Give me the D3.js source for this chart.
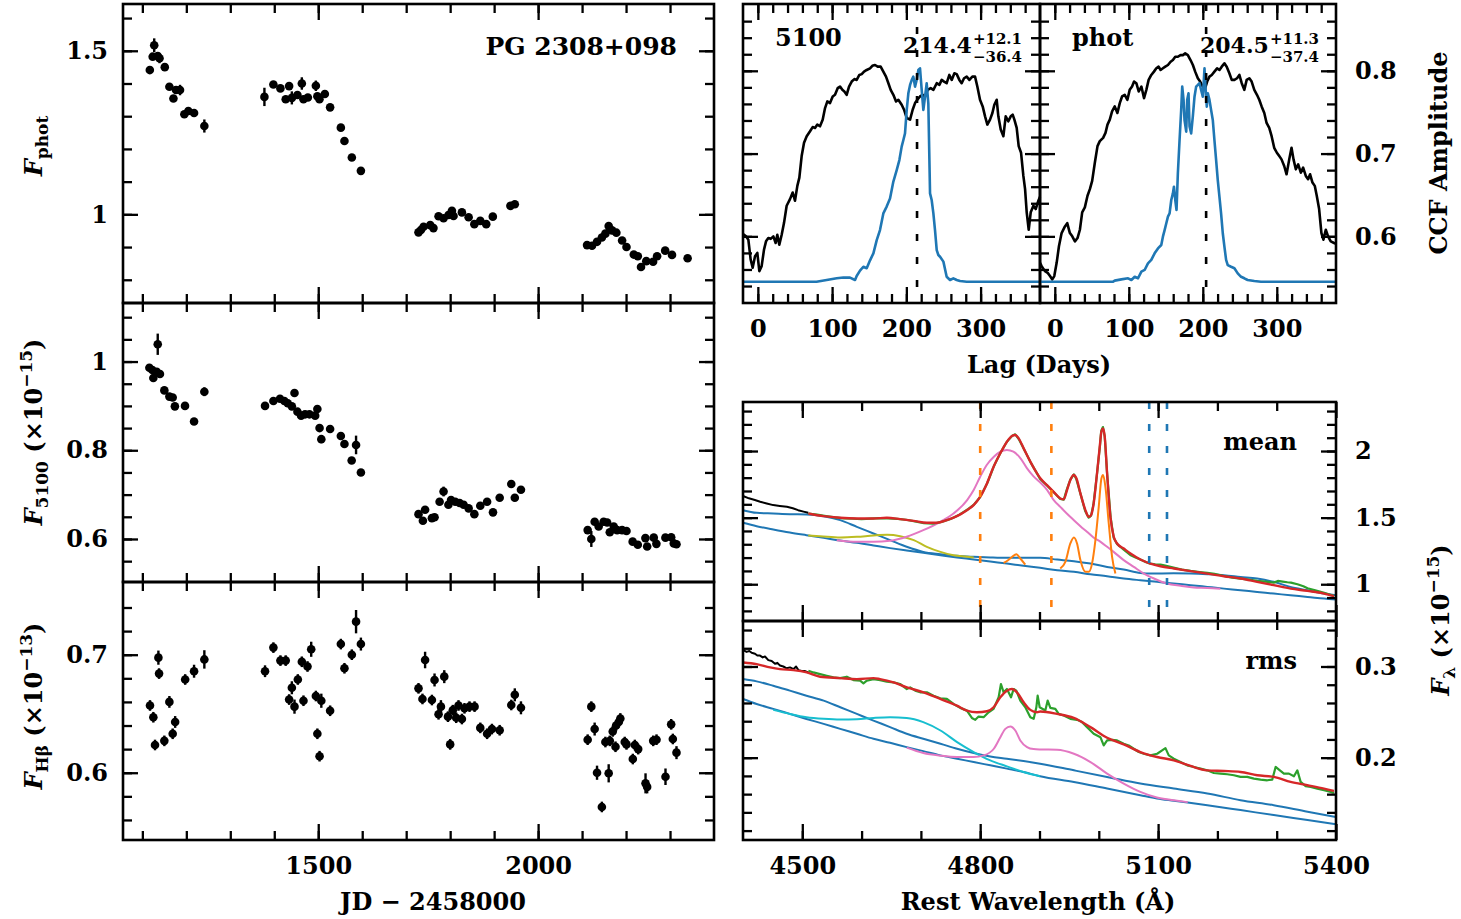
<!DOCTYPE html>
<meta charset="utf-8">
<style>
body { margin: 0; background: #fff; }
text { font-family: "DejaVu Serif", serif; font-weight: bold; font-size: 24px; fill: #000; }
</style>
<body>
<script src="https://d3js.org/d3.v7.min.js"></script>
<script>

var width = 1461,
    height = 919;

// light curves: [JD - 2458000, flux, error]
var photData = [
  [1117,1.441,.004],[1123.5,1.482,.006],[1127,1.517,.021],[1135,1.484,.006],[1139,1.477,.015],[1151,1.450,.005],
  [1161.5,1.390,.005],[1170.7,1.354,.005],[1176.6,1.380,.006],[1185.7,1.380,.016],[1195.5,1.306,.005],[1204.6,1.316,.004],
  [1217.6,1.310,.004],[1241,1.270,.020],
  [1377.6,1.359,.028],[1398,1.397,.004],[1414,1.385,.004],[1426,1.352,.004],[1433.8,1.392,.006],[1440,1.356,.020],
  [1452.7,1.365,.005],[1462.7,1.400,.019],[1466.4,1.352,.004],[1476.4,1.357,.004],[1494.6,1.393,.016],[1498,1.361,.006],
  [1502.8,1.352,.005],[1515,1.368,.004],[1527,1.327,.004],[1551.4,1.265,.004],[1559.6,1.224,.004],[1576.4,1.174,.004],
  [1597,1.133,.004],
  [1728,0.945,.006],[1733.5,0.952,.004],[1739.5,0.962,.004],[1754.7,0.967,.004],[1762,0.958,.004],[1773.6,0.994,.004],
  [1785,0.988,.004],[1796.3,0.998,.004],[1804,1.011,.005],[1807.7,0.995,.004],[1826.7,1.006,.004],[1842,0.991,.004],
  [1855,0.970,.004],[1868.5,0.980,.004],[1882,0.970,.004],[1897,0.993,.004],[1937,1.026,.004],[1947,1.031,.004],
  [2111.3,0.906,.004],[2122.6,0.904,.004],[2134,0.916,.004],[2145,0.929,.004],[2153,0.941,.004],[2160.5,0.964,.005],
  [2168,0.951,.004],[2178,0.944,.004],[2191,0.920,.004],[2201,0.900,.004],[2217.6,0.877,.004],[2226.7,0.872,.004],
  [2234,0.839,.004],[2246,0.857,.004],[2261.5,0.855,.004],[2270.6,0.872,.004],[2289,0.889,.004],[2304.5,0.876,.004],
  [2340,0.866,.004]
];

var f5100Data = [
  [1116,0.986,.005],[1122.7,0.981,.004],[1125,0.963,.005],[1132.6,0.977,.004],[1135,1.039,.024],[1140,0.972,.005],
  [1150,0.935,.004],[1161.5,0.921,.004],[1169,0.919,.004],[1174,0.899,.004],[1197,0.900,.005],[1217.6,0.865,.006],
  [1241,0.932,.010],
  [1379,0.900,.008],[1398,0.911,.004],[1413,0.916,.004],[1423,0.911,.004],[1430.6,0.906,.004],[1440,0.899,.004],
  [1446,0.929,.006],[1452.7,0.887,.006],[1461,0.878,.006],[1470,0.881,.004],[1480,0.881,.004],[1493,0.878,.005],
  [1498,0.893,.004],[1503,0.850,.005],[1507,0.825,.009],[1527,0.848,.004],[1551.4,0.832,.004],[1559.6,0.814,.004],
  [1576,0.777,.004],[1586,0.812,.021],[1597,0.750,.004],
  [1728,0.656,.005],[1738,0.641,.005],[1743,0.666,.004],[1758.5,0.647,.004],[1764.5,0.649,.004],[1776,0.684,.006],
  [1785,0.707,.011],[1796,0.677,.005],[1802,0.688,.004],[1811.6,0.684,.004],[1821.5,0.681,.004],[1830.6,0.677,.004],
  [1842,0.669,.006],[1855,0.656,.004],[1868.5,0.675,.004],[1884,0.684,.004],[1897.4,0.660,.004],[1912.6,0.693,.004],
  [1939,0.724,.004],[1947,0.693,.004],[1961,0.711,.004],
  [2112.7,0.620,.005],[2121,0.600,.018],[2128.6,0.639,.005],[2137.7,0.628,.004],[2149,0.639,.004],[2157,0.637,.004],
  [2163,0.615,.004],[2172,0.628,.004],[2179.7,0.620,.004],[2191,0.620,.004],[2201,0.618,.004],[2215,0.594,.006],
  [2226.7,0.587,.004],[2244,0.602,.005],[2248,0.583,.004],[2263,0.603,.005],[2269,0.589,.004],[2289.5,0.603,.004],
  [2302.6,0.604,.004],[2308.6,0.590,.004],[2314.7,0.588,.004]
];

var hbData = [
  [1117.4,0.657,.0045],[1125,0.647,.0045],[1128.8,0.6235,.0045],[1136.5,0.6975,.006],[1138,0.684,.0045],[1150,0.627,.0045],
  [1161.5,0.660,.005],[1169,0.633,.0045],[1174.6,0.643,.005],[1197.4,0.679,.0045],[1217.6,0.686,.0055],[1241,0.696,.0078],
  [1379,0.686,.005],[1398,0.706,.0045],[1414,0.695,.0045],[1426,0.695,.0045],[1433.8,0.662,.0045],[1440,0.672,.0055],
  [1446,0.656,.006],[1453.6,0.679,.0045],[1462.7,0.694,.0045],[1466.4,0.661,.0045],[1475.6,0.690,.0045],[1484,0.7046,.0064],
  [1494.6,0.665,.0045],[1498,0.633,.0045],[1503,0.614,.0045],[1507,0.661,.006],[1527,0.6525,.0045],[1551.4,0.709,.0045],
  [1559.6,0.6885,.0045],[1576.4,0.700,.0045],[1586,0.728,.0099],[1597,0.709,.0055],
  [1728,0.6715,.0045],[1737,0.6625,.0045],[1743,0.6955,.007],[1758.5,0.6616,.0045],[1764.5,0.6786,.0055],[1773.6,0.6495,.0045],
  [1779,0.656,.0055],[1786.6,0.6814,.0055],[1795,0.6475,.0045],[1800,0.624,.0045],[1806,0.653,.0045],[1813.7,0.6466,.0045],
  [1819,0.657,.0045],[1826.7,0.6455,.0045],[1832.6,0.6546,.0045],[1844,0.656,.0045],[1855.5,0.656,.0045],[1868.5,0.638,.0045],
  [1884,0.633,.0045],[1895,0.637,.0045],[1912.6,0.636,.0045],[1939,0.6574,.0045],[1947,0.666,.0055],[1961,0.655,.0055],
  [2112.7,0.628,.0045],[2121,0.656,.0045],[2128.6,0.637,.0055],[2134,0.600,.006],[2145,0.571,.0045],[2153,0.626,.0045],
  [2160.5,0.5995,.0077],[2163,0.627,.0045],[2169.7,0.635,.0045],[2177.4,0.640,.0045],[2183.5,0.643,.0045],[2187,0.646,.0045],
  [2176,0.622,.0045],[2197,0.626,.0045],[2201,0.624,.0045],[2215.4,0.6116,.0045],[2220,0.6235,.0045],[2227.6,0.620,.0045],
  [2244.3,0.591,.0085],[2248,0.588,.0055],[2261.7,0.627,.0045],[2269.3,0.628,.0045],[2289.7,0.5966,.007],[2302.6,0.641,.0045],
  [2306.4,0.6286,.0045],[2314.7,0.617,.0055]
];

// cross correlation: [lag (days), r] and centroid distributions: [lag, relative count]
var ccf5100 = [
  [-20,0.603],[-16,0.600],[-12.8,0.596],[-9.7,0.572],[-7,0.562],[-3.8,0.576],[-0.7,0.580],[2,0.558],[5.1,0.564],
  [8.3,0.584],[11,0.594],[14.1,0.598],[17.3,0.597],[20.9,0.600],[24,0.592],[26.2,0.602],[28.9,0.590],[32.1,0.602],
  [35.2,0.616],[38.8,0.637],[43.3,0.645],[46.9,0.653],[50,0.643],[53.2,0.661],[55.9,0.671],[59,0.697],[62.2,0.713],
  [65.8,0.721],[70.3,0.727],[73.8,0.732],[77,0.731],[80.1,0.735],[83.7,0.733],[87.3,0.741],[90.5,0.755],[93.6,0.763],
  [97.2,0.761],[100.8,0.769],[103.9,0.771],[107.5,0.779],[110.7,0.781],[113.8,0.777],[116.5,0.775],[119.6,0.771],
  [122.8,0.781],[126.4,0.787],[130,0.790],[133.1,0.789],[136.7,0.795],[139.9,0.796],[143,0.799],[146.6,0.801],
  [151.1,0.803],[154.2,0.806],[157.8,0.807],[161.4,0.805],[165.4,0.805],[169,0.799],[172.6,0.793],[175.8,0.785],
  [178.9,0.777],[182.5,0.771],[186.1,0.763],[189.2,0.765],[193.7,0.759],[196.9,0.753],[200.5,0.743],[205,0.741],
  [208.5,0.753],[211.7,0.761],[214.8,0.765],[218.4,0.769],[222,0.771],[225.2,0.769],[228.7,0.777],[232.8,0.779],
  [236.4,0.777],[240.9,0.785],[244.5,0.783],[247.6,0.789],[250.8,0.787],[254.3,0.785],[257.9,0.795],[261.1,0.789],
  [264.7,0.797],[267.8,0.796],[271.4,0.789],[274.5,0.785],[277.7,0.791],[281.3,0.793],[284.9,0.789],[288.9,0.793],
  [292.5,0.793],[295.6,0.781],[299.2,0.765],[302.8,0.757],[306,0.745],[309.1,0.735],[312.7,0.741],[315.9,0.749],
  [318.5,0.759],[321.7,0.765],[323.9,0.745],[327.1,0.729],[330.7,0.721],[333.8,0.745],[337.4,0.739],[340.6,0.745],
  [343.2,0.747],[345.5,0.741],[348.6,0.731],[351.3,0.709],[354.5,0.701],[357.6,0.673],[359.9,0.657],[362.1,0.629],
  [364.8,0.608],[367.5,0.629],[371.1,0.637],[374.2,0.633],[377.8,0.643],[380,0.648]
];
var dist5100 = [
  [-20,0],[79,0],[92.7,0.008],[106.2,0.016],[115.2,0.02],[124.1,0.019],[130.9,0.008],[133.1,0.027],[137.6,0.052],
  [142.1,0.07],[146.6,0.063],[151.1,0.1],[155.6,0.133],[160.1,0.195],[164.5,0.242],[169,0.32],[173.5,0.352],[178,0.39],
  [182.5,0.469],[187,0.523],[190.6,0.57],[193.7,0.633],[196,0.664],[198.2,0.695],[200.5,0.805],[202.7,0.883],[205,0.922],
  [207.2,0.945],[209.4,0.961],[211.7,0.914],[213.9,0.945],[216.2,0.992],[218.4,1],[220.7,0.898],[222.9,0.805],
  [225.2,0.867],[227.4,0.93],[229.6,0.836],[231.9,0.414],[234.1,0.383],[236.4,0.32],[238.6,0.242],[240.9,0.148],
  [243.1,0.125],[245.4,0.117],[249.9,0.094],[254.3,0.023],[258.8,0.008],[263.3,0.016],[267.8,0.008],[272.3,0.003],
  [281.3,0],[380,0]
];
var ccfPhot = [
  [-20,0.568],[-17.8,0.564],[-13.3,0.558],[-9.7,0.556],[-6.5,0.552],[-3.4,0.548],[-0.7,0.552],[2.5,0.568],[5.6,0.588],
  [9.2,0.604],[13.7,0.612],[16.8,0.616],[20.4,0.604],[23.6,0.600],[27.2,0.594],[30.7,0.598],[33.9,0.608],[37,0.629],
  [40.6,0.635],[44.2,0.649],[47.4,0.657],[50.5,0.667],[54.1,0.689],[57.7,0.709],[60.8,0.715],[65.3,0.719],[68.5,0.725],
  [71.2,0.735],[74.3,0.741],[77.4,0.751],[81,0.757],[84.6,0.749],[87.8,0.761],[90.9,0.769],[94.5,0.771],[98.1,0.765],
  [101.2,0.777],[104.4,0.781],[107.1,0.787],[110.2,0.785],[113.4,0.775],[117,0.781],[120.6,0.767],[123.7,0.777],
  [126.8,0.789],[130.4,0.795],[134,0.799],[137.2,0.803],[140.3,0.805],[143,0.801],[146.1,0.803],[149.3,0.805],
  [152.9,0.807],[156.5,0.811],[159.6,0.813],[162.8,0.817],[166.3,0.817],[169.9,0.819],[173.1,0.819],[176.2,0.821],
  [179.8,0.819],[183.4,0.813],[186.6,0.807],[189.7,0.799],[193.3,0.791],[196.4,0.787],[200,0.781],[203.2,0.779],
  [205.9,0.787],[209,0.793],[212.1,0.795],[215.7,0.799],[219.3,0.803],[222.5,0.801],[225.6,0.805],[229.2,0.809],
  [232.3,0.805],[235.9,0.797],[239.1,0.789],[242.7,0.789],[246.3,0.791],[249.4,0.795],[252.6,0.785],[256.1,0.777],
  [259.3,0.789],[262.9,0.791],[266,0.787],[269.6,0.777],[273.2,0.771],[276.3,0.765],[279.5,0.757],[283.1,0.749],
  [286.2,0.737],[289.8,0.731],[293,0.721],[296.5,0.707],[300.1,0.701],[303.3,0.697],[306.4,0.693],[310,0.685],
  [313.2,0.675],[316.8,0.693],[319.9,0.707],[322.6,0.693],[325.7,0.681],[328.9,0.687],[332.5,0.677],[335.6,0.683],
  [339.2,0.673],[342.3,0.669],[345,0.675],[348.2,0.665],[351.3,0.661],[354,0.649],[357.2,0.633],[360.3,0.604],
  [363,0.596],[366.2,0.608],[369.3,0.600],[372.9,0.594],[377.4,0.592],[380,0.591]
];
var distPhot = [
  [-20,0],[78.8,0],[81,0.005],[90,0.011],[99,0.016],[103.5,0.008],[108,0.023],[112.5,0.016],[117,0.047],[121.4,0.055],
  [125.9,0.086],[130.4,0.102],[134.9,0.133],[139.4,0.156],[143.9,0.172],[146.1,0.211],[148.4,0.242],[150.6,0.273],
  [152.9,0.305],[155.1,0.32],[157.4,0.383],[159.6,0.414],[161,0.445],[162.8,0.383],[164.5,0.336],[166.3,0.508],
  [168.6,0.664],[170.8,0.805],[172.2,0.914],[174,0.852],[175.3,0.758],[177.6,0.703],[178.9,0.852],[180.7,0.883],
  [182.1,0.727],[184.3,0.695],[186.5,0.773],[188.8,0.867],[191,0.914],[193.3,0.922],[195.5,0.93],[197.8,0.898],
  [200,0.867],[201.4,0.945],[202.3,1],[203.6,0.914],[205.4,0.82],[206.8,0.883],[209,0.852],[211.2,0.805],[213.5,0.758],
  [215.7,0.664],[218,0.57],[220.2,0.477],[222.5,0.398],[224.7,0.32],[227,0.227],[229.2,0.164],[231.5,0.102],
  [233.7,0.078],[238.2,0.07],[242.7,0.063],[247.2,0.039],[251.7,0.023],[256.1,0.016],[260.6,0.008],[269.6,0.003],
  [278.6,0],[380,0]
];
var ccfNames = ["5100", "phot"];
var lagCent = [214.4, 204.5],
    lagUp = [12.1, 11.3],
    lagLo = [36.4, 37.4];

// spectra: [rest wavelength, flux]
var meanData = [[4400,1.662],[4410,1.645],[4420,1.632],[4429,1.619],[4440,1.606],[4451,1.594],[4462,1.588],[4474,1.581],
  [4484,1.570],[4493,1.556],[4502,1.545],[4510,1.536]];
var meanGreen = [[4510,1.531],[4525,1.522],[4540,1.512],[4555,1.502],[4570,1.494],[4585,1.492],[4600,1.488],[4615,1.492],
  [4630,1.496],[4645,1.494],[4660,1.490],[4675,1.484],[4690,1.472],[4705,1.458],[4720,1.454],[4735,1.468],[4750,1.49],
  [4765,1.522],[4780,1.565],[4790,1.60],[4800,1.655],[4812,1.76],[4823,1.885],[4834,1.985],[4845,2.07],[4854,2.115],
  [4859,2.125],[4865,2.09],[4873,2.02],[4885,1.915],[4896,1.83],[4901,1.79],[4913,1.74],[4924,1.69],[4935,1.64],
  [4941,1.635],[4946,1.71],[4952,1.785],[4958,1.825],[4962,1.79],[4969,1.68],[4977,1.55],[4983,1.50],[4987,1.515],
  [4991,1.60],[4997,1.83],[5002,2.04],[5004,2.15],[5007,2.18],[5010,2.11],[5014,1.83],[5020,1.50],[5025,1.35],
  [5031,1.30],[5042,1.26],[5053,1.22],[5062,1.20],[5070,1.185],[5080,1.165],[5087,1.155],[5095,1.15],[5104,1.148],
  [5112,1.14],[5126,1.125],[5140,1.11],[5155,1.10],[5170,1.092],[5183,1.085],[5195,1.078],[5211,1.062],[5225,1.05],
  [5239,1.042],[5253,1.035],[5267,1.025],[5281,1.02],[5295,1.012],[5302,1.025],[5310,1.02],[5318,1.015],[5324,1.012],
  [5335,1.0],[5345,0.985],[5352,0.97],[5365,0.955],[5380,0.935],[5397,0.912]];
var meanModel = [[4510.3,1.531],[4535.6,1.511],[4563.7,1.499],[4591.9,1.494],[4620,1.494],[4642.5,1.499],[4665,1.489],
  [4687.6,1.476],[4710.1,1.461],[4727,1.461],[4743.8,1.481],[4760.7,1.511],[4777.6,1.556],[4788.9,1.594],[4800.1,1.657],
  [4811.4,1.757],[4822.6,1.882],[4833.9,1.983],[4845.1,2.070],[4853.6,2.113],[4859.2,2.120],[4864.8,2.095],
  [4873.3,2.020],[4884.5,1.920],[4895.8,1.832],[4901.4,1.795],[4912.7,1.744],[4923.9,1.694],[4935.2,1.644],
  [4940.8,1.637],[4946.4,1.707],[4952,1.782],[4957.7,1.820],[4962.2,1.795],[4969,1.682],[4977.4,1.556],[4983,1.506],
  [4987,1.519],[4991.4,1.607],[4997,1.832],[5001.6,2.033],[5004.4,2.145],[5007.2,2.170],[5010,2.108],[5014,1.832],
  [5019.6,1.506],[5025.2,1.356],[5030.8,1.306],[5042.1,1.268],[5053.4,1.231],[5070.2,1.186],[5087.1,1.155],
  [5104,1.135],[5126.5,1.118],[5154.7,1.098],[5182.8,1.080],[5211,1.060],[5239,1.043],[5267,1.018],[5295,0.993],
  [5323.5,0.967],[5351.6,0.950],[5379.8,0.930],[5396.6,0.910]];
var meanCont = [[4400,1.556],[4423,1.536],[4451,1.531],[4479,1.526],[4507,1.524],[4536,1.511],[4564,1.481],[4592,1.431],
  [4620,1.381],[4648,1.331],[4676,1.281],[4704,1.243],[4733,1.226],[4761,1.213],[4789,1.206],[4817,1.201],[4845,1.198],
  [4873,1.198],[4901,1.198],[4930,1.185],[4958,1.173],[4986,1.155],[5014,1.130],[5042,1.110],[5070,1.085],[5087,1.080],
  [5126,1.082],[5155,1.080],[5183,1.075],[5211,1.068],[5239,1.055],[5267,1.043],[5295,1.018],[5323,0.980],[5352,0.955],
  [5380,0.930],[5400,0.917]];
var meanPL = [[4400,1.461],[4423,1.436],[4451,1.411],[4479,1.388],[4507,1.368],[4536,1.348],[4564,1.328],[4592,1.311],
  [4620,1.291],[4648,1.271],[4676,1.253],[4704,1.236],[4733,1.218],[4761,1.201],[4789,1.186],[4817,1.170],[4845,1.155],
  [4873,1.138],[4901,1.123],[4930,1.105],[4958,1.093],[4986,1.075],[5014,1.060],[5042,1.043],[5070,1.030],[5098,1.018],
  [5126,1.005],[5155,0.993],[5183,0.980],[5211,0.967],[5239,0.955],[5267,0.942],[5295,0.930],[5323,0.917],[5352,0.905],
  [5380,0.892],[5400,0.885]];
var meanHeII = [[4510,1.366],[4530,1.361],[4564,1.351],[4592,1.356],[4620,1.366],[4643,1.371],[4665,1.361],[4688,1.331],
  [4710,1.281],[4733,1.243],[4755,1.218],[4778,1.206],[4789,1.200]];
var meanHbBroad = [[4558,1.331],[4592,1.318],[4620,1.318],[4648,1.326],[4676,1.356],[4704,1.406],[4733,1.469],
  [4755,1.531],[4778,1.632],[4789,1.707],[4800,1.807],[4811,1.895],[4823,1.957],[4834,1.995],[4845,2.008],[4856,1.995],
  [4868,1.945],[4879,1.87],[4890,1.81],[4901,1.765],[4913,1.707],[4924,1.632],[4935,1.581],[4946,1.531],[4958,1.481],
  [4969,1.436],[4980,1.394],[4991,1.351],[5003,1.318],[5014,1.281],[5025,1.243],[5042,1.181],[5059,1.130],[5076,1.080],
  [5093,1.043],[5115,1.005],[5138,0.988],[5160,0.975],[5183,0.972],[5205,0.966]];
var meanHbNarrow = [[4839.5,1.160],[4847,1.18],[4853.6,1.205],[4861,1.226],[4867.6,1.193],[4876,1.148]];
var meanOIII = [[4935,1.118],[4943.6,1.168],[4952,1.306],[4958,1.351],[4963.3,1.306],[4969,1.181],[4977.4,1.093],
  [4983,1.093],[4988.6,1.155],[4994.3,1.331],[4999.9,1.581],[5004.4,1.794],[5007.2,1.820],[5011.1,1.732],
  [5016.8,1.456],[5022.4,1.206],[5028,1.08]];

var rmsData = [[4400.5,0.318],[4406,0.316],[4410.7,0.317],[4414.6,0.315],[4420.2,0.314],[4424.2,0.312],[4428.7,0.312],
  [4433.2,0.310],[4437.1,0.311],[4442.7,0.307],[4448.4,0.306],[4454,0.303],[4458,0.304],[4462.4,0.301],[4468,0.300],
  [4473.7,0.298],[4479.3,0.299],[4485,0.297],[4489.5,0.300],[4493.4,0.296],[4499,0.295],[4504.6,0.295],[4510.3,0.2935]];
var rmsGreen = [[4510.3,0.2953],[4518.7,0.2935],[4530,0.2917],[4541.2,0.2899],[4552.5,0.288],[4563.7,0.2873],[4575,0.2888],
  [4586.3,0.2851],[4597.5,0.2844],[4603.1,0.2815],[4608.8,0.2844],[4620,0.2862],[4631.3,0.2851],[4642.5,0.2833],
  [4653.8,0.2826],[4665,0.2808],[4676.3,0.2753],[4682,0.2771],[4690.4,0.2735],[4698.8,0.2717],[4710,0.2717],
  [4721.3,0.268],[4732.6,0.2651],[4743.8,0.2644],[4755,0.2589],[4766.3,0.2546],[4777.6,0.2516],[4786,0.2436],
  [4791.7,0.2415],[4797.3,0.2451],[4805.7,0.2444],[4814.2,0.2498],[4822.6,0.2535],[4831.1,0.2662],[4835,0.2808],
  [4839.5,0.2717],[4845.1,0.2753],[4851.9,0.2662],[4856.4,0.2753],[4860.9,0.2735],[4867.6,0.2626],[4876.1,0.2553],
  [4884.5,0.2444],[4890.2,0.2426],[4894.7,0.2553],[4896.9,0.268],[4900.3,0.2553],[4909.8,0.2517],[4913.8,0.2626],
  [4918.3,0.2546],[4926.7,0.2535],[4932.4,0.248],[4940.8,0.2462],[4952.1,0.2426],[4963.3,0.2415],[4971.8,0.239],
  [4980.2,0.2335],[4991.4,0.2262],[5002.7,0.2225],[5008.3,0.2134],[5014,0.2189],[5022.4,0.2196],[5030.8,0.2189],
  [5042.1,0.2153],[5050.5,0.2134],[5059,0.2098],[5067.4,0.2062],[5075.9,0.2043],[5087.1,0.2025],[5098.4,0.2043],
  [5106.8,0.208],[5112.4,0.2105],[5118,0.2025],[5126.5,0.1989],[5137.8,0.1952],[5149,0.1916],[5160.3,0.1898],
  [5171.5,0.188],[5182.8,0.1861],[5194,0.1832],[5205.3,0.1825],[5216.6,0.1818],[5227.8,0.1807],[5239,0.1789],
  [5250.3,0.1789],[5261.6,0.1770],[5272.8,0.1759],[5284.1,0.1752],[5292.5,0.1759],[5298.2,0.1898],[5303.8,0.1869],
  [5312.2,0.1825],[5320.7,0.1825],[5329.1,0.1796],[5334.8,0.1861],[5340.4,0.1734],[5348.8,0.1687],[5357.3,0.1679],
  [5368.5,0.1661],[5379.8,0.1643],[5391,0.1625],[5396.6,0.1614]];
var rmsModel = [[4400.5,0.3044],[4423,0.3026],[4445.6,0.299],[4462.4,0.2971],[4485,0.296],[4507.5,0.2935],[4530,0.2888],
  [4563.7,0.2873],[4592,0.2862],[4620,0.2873],[4631,0.2862],[4653.8,0.2826],[4676.3,0.2771],[4704.4,0.2717],
  [4732.6,0.2644],[4760.7,0.2571],[4777.6,0.2516],[4794.5,0.2498],[4811.4,0.2509],[4822.6,0.2553],[4833.9,0.2662],
  [4845.1,0.2735],[4853.6,0.2753],[4862,0.2717],[4873.3,0.2607],[4884.5,0.2524],[4895.8,0.2498],[4901.4,0.2506],
  [4929.5,0.248],[4957.7,0.2436],[4985.8,0.2335],[5014,0.2218],[5042,0.2145],[5070,0.2062],[5098.4,0.2007],
  [5126.5,0.1971],[5154.7,0.1909],[5182.8,0.1861],[5211,0.1854],[5239,0.1843],[5267.2,0.1807],[5295.4,0.1789],
  [5323.5,0.1734],[5351.6,0.1698],[5379.8,0.1661],[5396.6,0.1636]];
var rmsCont = [[4400,0.2862],[4423,0.2837],[4451,0.2789],[4479,0.2735],[4507,0.268],[4536,0.2626],[4564,0.2553],
  [4592,0.248],[4620,0.2407],[4648,0.2335],[4676,0.2262],[4704,0.2207],[4733,0.2153],[4761,0.2098],[4789,0.2051],
  [4817,0.2014],[4845,0.1989],[4873,0.1963],[4901,0.1934],[4958,0.1861],[5014,0.1789],[5070,0.1716],[5126.5,0.1661],
  [5183,0.1607],[5239,0.1534],[5295,0.1479],[5352,0.1407],[5400,0.1350]];
var rmsPL = [[4400,0.2644],[4423,0.2589],[4451,0.2535],[4479,0.248],[4507,0.2425],[4536,0.2371],[4564,0.2316],
  [4592,0.2262],[4620,0.2207],[4648,0.2163],[4676,0.2116],[4704,0.2072],[4733,0.2025],[4761,0.1989],[4789,0.1952],
  [4817,0.1916],[4845,0.188],[4873,0.1843],[4901,0.1796],[4958,0.1734],[5014,0.1661],[5070,0.1588],[5098,0.1552],
  [5126.5,0.1527],[5183,0.1479],[5239,0.1425],[5295,0.137],[5352,0.1316],[5400,0.1270]];
var rmsFe = [[4451,0.2524],[4479,0.248],[4507,0.2444],[4536,0.2426],[4564,0.2418],[4592,0.2422],[4620,0.2436],
  [4648,0.2444],[4676,0.2436],[4704,0.239],[4733,0.2298],[4761,0.2171],[4789,0.2062],[4817,0.1971],[4845,0.1905],
  [4873,0.1843],[4901,0.1796]];
var rmsHb = [[4676,0.211],[4704,0.2051],[4733,0.2022],[4761,0.2007],[4789,0.2007],[4806,0.2025],[4823,0.2098],
  [4834,0.2225],[4842.4,0.2316],[4850.8,0.2342],[4859.2,0.2298],[4867.6,0.2189],[4879,0.2116],[4890,0.2094],
  [4901,0.209],[4929.5,0.2087],[4958,0.2043],[4986,0.1952],[5014,0.1825],[5042,0.1716],[5070,0.1625],[5098,0.1563],
  [5126.5,0.1534],[5150,0.1512]];

var hbWindow = [4800, 4920],
    contWindow = [5085, 5115];

var cBlue = "#1f77b4", cOrange = "#ff7f0e", cGreen = "#2ca02c", cRed = "#d62728",
    cPink = "#e377c2", cOlive = "#bcbd22", cCyan = "#17becf";

var svg = d3.select("body").append("svg")
    .attr("width", width)
    .attr("height", height);

// scales
var xJD = d3.scaleLinear().domain([1056, 2400]).range([123, 714]);
var yPhot = d3.scaleLinear().domain([0.729, 1.643]).range([303, 4]);
var y5100 = d3.scaleLinear().domain([0.503, 1.132]).range([582, 303]);
var yHb = d3.scaleLinear().domain([0.543, 0.7616]).range([840, 582]);

var xLag = [d3.scaleLinear().domain([-20, 380]).range([743, 1040]),
            d3.scaleLinear().domain([-20, 380]).range([1040, 1336])];
var yCCF = d3.scaleLinear().domain([0.5195, 0.8807]).range([303, 4]);
var yDist = d3.scaleLinear().domain([0, 1]).range([281.7, 68.3]);

var xW = d3.scaleLinear().domain([4400, 5400]).range([743, 1336]);
var yMean = d3.scaleLinear().domain([0.724, 2.368]).range([621, 402]);
var yRms = d3.scaleLinear().domain([0.1097, 0.3499]).range([840, 621]);

var fmt = d3.format("~g");

function tickSet(scale, orient, pos, vals, len) {
  var vertical = (orient === d3.axisLeft || orient === d3.axisRight);
  var g = svg.append("g")
      .attr("transform", vertical ? "translate(" + pos + ",0)" : "translate(0," + pos + ")")
      .call(orient(scale).tickValues(vals).tickSize(-len).tickFormat(""));
  g.select(".domain").remove();
  g.selectAll(".tick line").attr("stroke", "#000").attr("stroke-width", 2.3);
}

function boxTicks(xs, ys, xMaj, xMin, yMaj, yMin) {
  var x0 = xs.range()[0], x1 = xs.range()[1], y1 = ys.range()[0], y0 = ys.range()[1];
  [[d3.axisBottom, y1], [d3.axisTop, y0]].forEach(function(a) {
    tickSet(xs, a[0], a[1], xMin, 9);
    tickSet(xs, a[0], a[1], xMaj, 16);
  });
  [[d3.axisLeft, x0], [d3.axisRight, x1]].forEach(function(a) {
    tickSet(ys, a[0], a[1], yMin, 9);
    tickSet(ys, a[0], a[1], yMaj, 15);
  });
}

function tickLabels(scale, orient, pos, vals, pad) {
  var vertical = (orient === d3.axisLeft || orient === d3.axisRight);
  var g = svg.append("g")
      .attr("transform", vertical ? "translate(" + pos + ",0)" : "translate(0," + pos + ")")
      .call(orient(scale).tickValues(vals).tickSize(0).tickPadding(pad).tickFormat(fmt));
  g.select(".domain").remove();
  g.attr("font-family", null).attr("font-size", null);
}

function frame(xs, ys) {
  var x0 = xs.range()[0], x1 = xs.range()[1], y1 = ys.range()[0], y0 = ys.range()[1];
  svg.append("rect")
      .attr("x", x0).attr("y", y0).attr("width", x1 - x0).attr("height", y1 - y0)
      .attr("fill", "none").attr("stroke", "#000").attr("stroke-width", 2.6);
}

function drawLine(data, xs, ys, color, w, curve) {
  svg.append("path").datum(data)
      .attr("fill", "none").attr("stroke", color).attr("stroke-width", w)
      .attr("stroke-linejoin", "round")
      .attr("d", d3.line().x(d => xs(d[0])).y(d => ys(d[1])).curve(curve || d3.curveLinear));
}

// rotated label made of parts {t, size, shift, italic}
function vLabel(x, y, parts) {
  var t = svg.append("text")
      .attr("transform", "translate(" + x + "," + y + ") rotate(-90)")
      .attr("text-anchor", "middle");
  var prev = 0;
  parts.forEach(function(p) {
    var s = p.shift || 0;
    t.append("tspan")
        .attr("dy", s - prev)
        .style("font-size", (p.size || 24) + "px")
        .style("font-style", p.italic ? "italic" : null)
        .text(p.t);
    prev = s;
  });
}

// ---------- light curves ----------
var lcPanels = [
  {data: photData, y: yPhot, major: [1, 1.5], minor: d3.range(0.8, 1.61, 0.1)},
  {data: f5100Data, y: y5100, major: [0.6, 0.8, 1], minor: d3.range(0.55, 1.11, 0.05)},
  {data: hbData, y: yHb, major: [0.6, 0.7], minor: d3.range(0.56, 0.75, 0.02)}
];

lcPanels.forEach(function(p) {
  var g = svg.append("g");
  g.selectAll("line.err").data(p.data).join("line")
      .attr("x1", d => xJD(d[0])).attr("x2", d => xJD(d[0]))
      .attr("y1", d => p.y(d[1] - d[2])).attr("y2", d => p.y(d[1] + d[2]))
      .attr("stroke", "#000").attr("stroke-width", 2.4);
  g.selectAll("circle").data(p.data).join("circle")
      .attr("cx", d => xJD(d[0]))
      .attr("cy", d => p.y(d[1]))
      .attr("r", 4.3)
      .attr("fill", "#000");
  boxTicks(xJD, p.y, [1500, 2000], d3.range(1100, 2301, 100), p.major, p.minor);
  tickLabels(p.y, d3.axisLeft, 123, p.major, 15);
  frame(xJD, p.y);
});
tickLabels(xJD, d3.axisBottom, 840, [1500, 2000], 17);

svg.append("text").attr("x", 677).attr("y", 55).attr("text-anchor", "end")
    .style("font-size", "25px").text("PG 2308+098");

svg.append("text").attr("x", 433).attr("y", 910).attr("text-anchor", "middle").text("JD \u2212 2458000");

vLabel(42, 146, [{t: "F", italic: true}, {t: "phot", size: 17, shift: 6}]);
vLabel(42, 432, [{t: "F", italic: true}, {t: "5100", size: 17, shift: 6}, {t: " (\u00d710", shift: 0},
                 {t: "\u221215", size: 17, shift: -10}, {t: ")", shift: 0}]);
vLabel(42, 706, [{t: "F", italic: true}, {t: "H\u03b2", size: 17, shift: 6}, {t: " (\u00d710", shift: 0},
                 {t: "\u221213", size: 17, shift: -10}, {t: ")", shift: 0}]);

// ---------- CCF panels ----------
[[ccf5100, dist5100], [ccfPhot, distPhot]].forEach(function(c, i) {
  var xs = xLag[i];
  drawLine(c[0], xs, yCCF, "#000", 2.6);
  drawLine(c[1], xs, yDist, cBlue, 2.6);
  svg.append("line")
      .attr("x1", xs(lagCent[i])).attr("x2", xs(lagCent[i]))
      .attr("y1", 4).attr("y2", 303)
      .attr("stroke", "#000").attr("stroke-width", 2.6).attr("stroke-dasharray", "7,16");
  boxTicks(xs, yCCF, [0, 100, 200, 300], d3.range(0, 361, 20), [0.6, 0.7, 0.8], d3.range(0.54, 0.87, 0.02));
  tickLabels(xs, d3.axisBottom, 303, [0, 100, 200, 300], 17);
  frame(xs, yCCF);

  var x0 = xs.range()[0];
  svg.append("text").attr("x", x0 + 32).attr("y", 46).text(ccfNames[i]);
  var v = svg.append("text").attr("x", x0 + 160).attr("y", 53).style("font-size", "22px").text(lagCent[i].toFixed(1));
  var xe = x0 + 160 + v.node().getComputedTextLength() + 1;
  svg.append("text").attr("x", xe).attr("y", 44).style("font-size", "15px").text("+" + lagUp[i].toFixed(1));
  svg.append("text").attr("x", xe).attr("y", 62).style("font-size", "15px").text("\u2212" + lagLo[i].toFixed(1));
});
tickLabels(yCCF, d3.axisRight, 1336, [0.6, 0.7, 0.8], 19);
svg.append("text").attr("x", 1039).attr("y", 373).attr("text-anchor", "middle").text("Lag (Days)");
vLabel(1447, 153, [{t: "CCF Amplitude"}]);

// ---------- spectra ----------
drawLine(meanCont, xW, yMean, cBlue, 2, d3.curveMonotoneX);
drawLine(meanPL, xW, yMean, cBlue, 2, d3.curveMonotoneX);
drawLine(meanHeII, xW, yMean, cOlive, 2, d3.curveMonotoneX);
drawLine(meanHbBroad, xW, yMean, cPink, 2, d3.curveMonotoneX);
drawLine(meanHbNarrow, xW, yMean, cOrange, 2, d3.curveMonotoneX);
drawLine(meanOIII, xW, yMean, cOrange, 2, d3.curveMonotoneX);
drawLine(meanData, xW, yMean, "#000", 2);
drawLine(meanGreen, xW, yMean, cGreen, 2.2);
drawLine(meanModel, xW, yMean, cRed, 2.4, d3.curveMonotoneX);

hbWindow.forEach(function(w) {
  svg.append("line").attr("x1", xW(w)).attr("x2", xW(w)).attr("y1", 402).attr("y2", 621)
      .attr("stroke", cOrange).attr("stroke-width", 2.6).attr("stroke-dasharray", "7,15");
});
contWindow.forEach(function(w) {
  svg.append("line").attr("x1", xW(w)).attr("x2", xW(w)).attr("y1", 402).attr("y2", 621)
      .attr("stroke", cBlue).attr("stroke-width", 2.6).attr("stroke-dasharray", "7,15");
});

drawLine(rmsCont, xW, yRms, cBlue, 2, d3.curveMonotoneX);
drawLine(rmsPL, xW, yRms, cBlue, 2, d3.curveMonotoneX);
drawLine(rmsFe, xW, yRms, cCyan, 2, d3.curveMonotoneX);
drawLine(rmsHb, xW, yRms, cPink, 2, d3.curveMonotoneX);
drawLine(rmsData, xW, yRms, "#000", 2);
drawLine(rmsGreen, xW, yRms, cGreen, 2.2);
drawLine(rmsModel, xW, yRms, cRed, 2.4, d3.curveMonotoneX);

var wMajor = [4500, 4800, 5100, 5400], wMinor = d3.range(4500, 5301, 100);
boxTicks(xW, yMean, wMajor, wMinor, [1, 1.5, 2], d3.range(0.8, 2.31, 0.1));
boxTicks(xW, yRms, wMajor, wMinor, [0.2, 0.3], d3.range(0.12, 0.341, 0.02));
tickLabels(yMean, d3.axisRight, 1336, [1, 1.5, 2], 19);
tickLabels(yRms, d3.axisRight, 1336, [0.2, 0.3], 19);
tickLabels(xW, d3.axisBottom, 840, wMajor, 17);
frame(xW, yMean);
frame(xW, yRms);

svg.append("text").attr("x", 1297).attr("y", 450).attr("text-anchor", "end").text("mean");
svg.append("text").attr("x", 1297).attr("y", 669).attr("text-anchor", "end").text("rms");
svg.append("text").attr("x", 1038).attr("y", 910).attr("text-anchor", "middle").text("Rest Wavelength (\u00c5)");
vLabel(1449, 620, [{t: "F", italic: true}, {t: "\u03bb", size: 17, shift: 6}, {t: " (\u00d710", shift: 0},
                   {t: "\u221215", size: 17, shift: -10}, {t: ")", shift: 0}]);

</script>
